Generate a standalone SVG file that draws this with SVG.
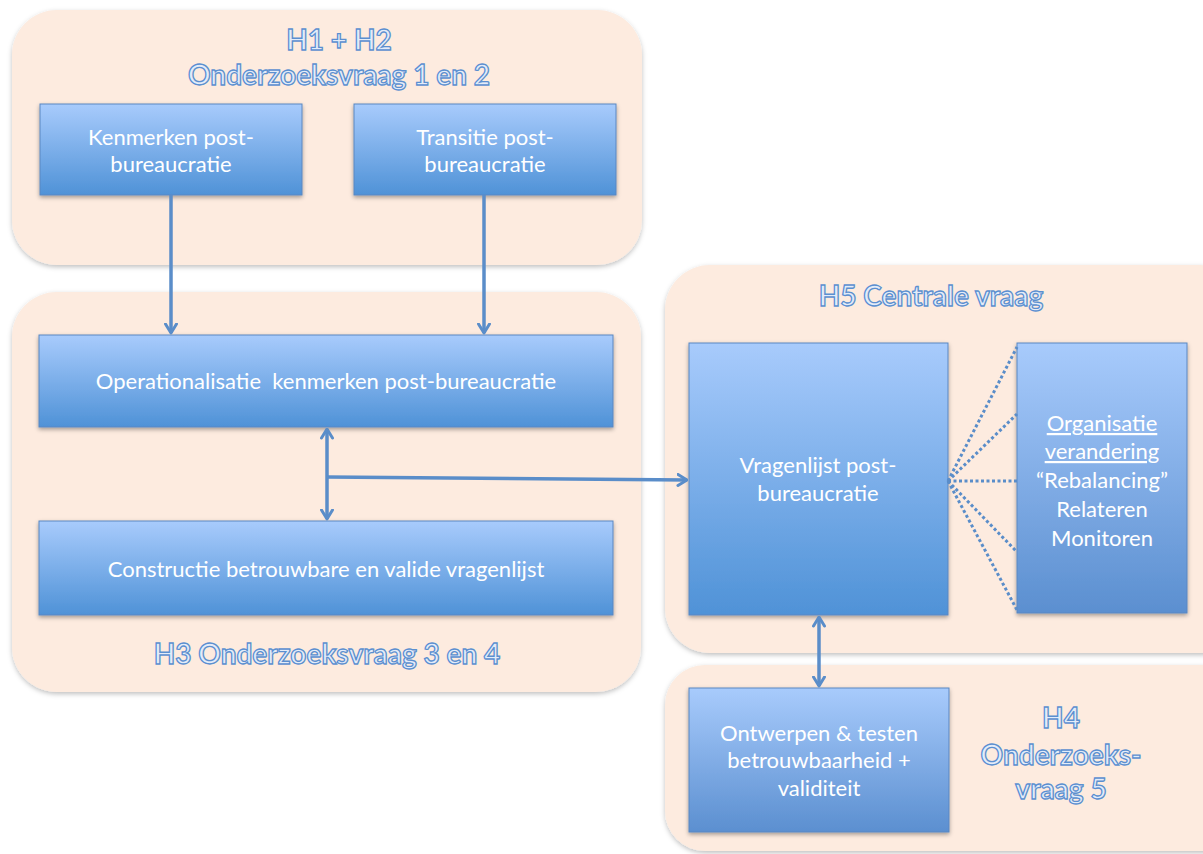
<svg xmlns="http://www.w3.org/2000/svg" width="1203" height="854" viewBox="0 0 1203 854">
<defs>
<linearGradient id="boxg" x1="0" y1="0" x2="0" y2="1">
<stop offset="0" stop-color="#a8cbfc"/>
<stop offset="1" stop-color="#4f92d7"/>
</linearGradient>
<linearGradient id="boxg2" x1="0" y1="0" x2="0" y2="1">
<stop offset="0" stop-color="#a8cbfc"/>
<stop offset="1" stop-color="#5b8fd0"/>
</linearGradient>
<filter id="sh" x="-10%" y="-10%" width="120%" height="130%">
<feDropShadow dx="0" dy="2" stdDeviation="2" flood-color="#000" flood-opacity="0.35"/>
</filter>
<filter id="csh" x="-10%" y="-10%" width="120%" height="130%">
<feDropShadow dx="0" dy="2" stdDeviation="2.5" flood-color="#000" flood-opacity="0.25"/>
</filter>
<marker id="ah" viewBox="0 0 12 14" refX="10.5" refY="7" markerWidth="12" markerHeight="14" markerUnits="userSpaceOnUse" orient="auto-start-reverse">
<path d="M1.5,1.5 L10.5,7 L1.5,12.5" fill="none" stroke="#5a8dc9" stroke-width="3" stroke-linecap="round" stroke-linejoin="round"/>
</marker>
</defs>
<style>
.cont{fill:#fdebdf;filter:url(#csh)}
.box{fill:url(#boxg);stroke:#5a87c2;stroke-width:1;filter:url(#sh)}
.bt{font-family:Lato,"Open Sans",sans-serif;font-size:22px;fill:#ffffff;text-anchor:middle}
.tt{font-family:Lato,"Open Sans",sans-serif;font-size:28px;font-weight:bold;fill:#e3ecf9;stroke:#5b8fd0;stroke-width:1.3;text-anchor:middle}
.ln{fill:none;stroke:#5a8dc9;stroke-width:3.5}
.dot{fill:none;stroke:#5a8dc9;stroke-width:3;stroke-dasharray:3 2.5}
</style>
<rect width="1203" height="854" fill="#ffffff"/>

<g id="container-h1h2">
<rect class="cont" x="12" y="10" width="630" height="255" rx="45"/>
<text class="tt" x="339" y="50">H1 + H2</text>
<text class="tt" x="339" y="85">Onderzoeksvraag 1 en 2</text>
</g>
<g id="container-h3">
<rect class="cont" x="12" y="292" width="629" height="400" rx="45"/>
<text class="tt" x="327" y="664">H3 Onderzoeksvraag 3 en 4</text>
</g>
<g id="container-h5">
<rect class="cont" x="665" y="265" width="580" height="388" rx="45"/>
<text class="tt" x="931" y="306">H5 Centrale vraag</text>
</g>
<g id="container-h4">
<rect class="cont" x="665" y="665" width="580" height="186" rx="40"/>
<text class="tt" x="1061" y="728">H4</text>
<text class="tt" x="1061" y="765">Onderzoeks-</text>
<text class="tt" x="1061" y="799">vraag 5</text>
</g>

<g id="node-kenmerken">
<rect class="box" x="40" y="104" width="262" height="91"/>
<text class="bt" x="171" y="145">Kenmerken post-</text>
<text class="bt" x="171" y="172">bureaucratie</text>
</g>
<g id="node-transitie">
<rect class="box" x="354" y="104" width="262" height="91"/>
<text class="bt" x="485" y="145">Transitie post-</text>
<text class="bt" x="485" y="172">bureaucratie</text>
</g>
<g id="node-operationalisatie">
<rect class="box" x="39" y="335" width="574" height="92"/>
<text class="bt" x="326" y="389" xml:space="preserve">Operationalisatie  kenmerken post-bureaucratie</text>
</g>
<g id="node-constructie">
<rect class="box" x="39" y="521" width="574" height="94"/>
<text class="bt" x="326" y="577">Constructie betrouwbare en valide vragenlijst</text>
</g>
<g id="node-vragenlijst">
<rect class="box" x="689" y="343" width="259" height="272"/>
<text class="bt" x="818" y="473">Vragenlijst post-</text>
<text class="bt" x="818" y="501">bureaucratie</text>
</g>
<g id="node-organisatie">
<rect class="box" x="1017" y="343" width="170" height="270" style="fill:url(#boxg2)"/>
<text class="bt" x="1102" y="431" text-decoration="underline">Organisatie</text>
<text class="bt" x="1102" y="459" text-decoration="underline">verandering</text>
<text class="bt" x="1102" y="488">“Rebalancing”</text>
<text class="bt" x="1102" y="517">Relateren</text>
<text class="bt" x="1102" y="546">Monitoren</text>
</g>
<g id="node-ontwerpen">
<rect class="box" x="689" y="688" width="260" height="144" style="fill:url(#boxg2)"/>
<text class="bt" x="819" y="741">Ontwerpen &amp; testen</text>
<text class="bt" x="819" y="768">betrouwbaarheid +</text>
<text class="bt" x="819" y="796">validiteit</text>
</g>

<g id="connectors">
<line class="ln" x1="171" y1="195" x2="171" y2="333" marker-end="url(#ah)"/>
<line class="ln" x1="484" y1="195" x2="484" y2="333" marker-end="url(#ah)"/>
<line class="ln" x1="327" y1="429" x2="327" y2="519" marker-start="url(#ah)" marker-end="url(#ah)"/>
<line class="ln" x1="327" y1="477" x2="687" y2="480" marker-end="url(#ah)"/>
<line class="ln" x1="819" y1="617" x2="819" y2="686" marker-start="url(#ah)" marker-end="url(#ah)"/>
<line class="dot" x1="948" y1="481" x2="1017" y2="347"/>
<line class="dot" x1="948" y1="481" x2="1017" y2="414"/>
<line class="dot" x1="948" y1="481" x2="1017" y2="481"/>
<line class="dot" x1="948" y1="481" x2="1017" y2="552"/>
<line class="dot" x1="948" y1="481" x2="1017" y2="610"/>
</g>
</svg>
